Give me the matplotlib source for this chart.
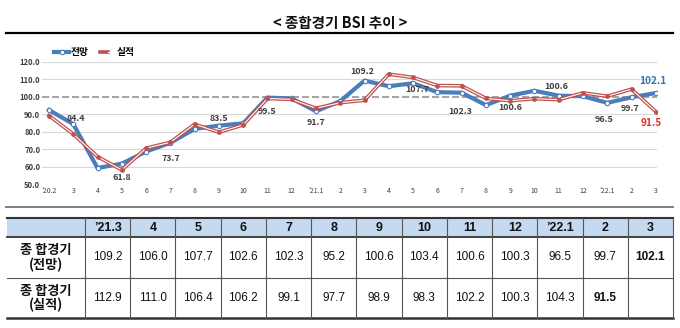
import matplotlib.pyplot as plt
from matplotlib.patches import Rectangle
from matplotlib.legend_handler import HandlerTuple

plt.rcParams['font.family'] = ['Noto Sans CJK KR', 'DejaVu Sans']

# chart data ('20.2 ~ '22.3)
months = ["’20.2", "3", "4", "5", "6", "7", "8", "9", "10", "11", "12",
          "’21.1", "2", "3", "4", "5", "6", "7", "8", "9", "10", "11", "12",
          "’22.1", "2", "3"]
outlook = [92.4, 84.4, 59.3, 61.8, 68.7, 73.7, 81.6, 83.5, 84.8, 99.5, 99.0,
           91.7, 97.5, 109.2, 106.0, 107.7, 102.6, 102.3, 95.2, 100.6, 103.4,
           100.6, 100.3, 96.5, 99.7, 102.1]
actual = [89.2, 78.7, 65.8, 58.2, 70.6, 74.0, 84.3, 79.7, 83.9, 99.0, 98.5,
          93.4, 96.6, 98.0, 112.9, 111.0, 106.4, 106.2, 99.1, 97.7, 98.9,
          98.3, 102.2, 100.3, 104.3, 91.5]

# table data
table_months = ["’21.3", "4", "5", "6", "7", "8", "9", "10", "11", "12",
                "’22.1", "2", "3"]
table_outlook = [109.2, 106.0, 107.7, 102.6, 102.3, 95.2, 100.6, 103.4, 100.6,
                 100.3, 96.5, 99.7, 102.1]
table_actual = [112.9, 111.0, 106.4, 106.2, 99.1, 97.7, 98.9, 98.3, 102.2,
                100.3, 104.3, 91.5, None]
row_names = ["종 합경기\n(전망)", "종 합경기\n(실적)"]

BLUE = '#4a7ebb'
RED = '#c0504d'
TXT = '#404040'

fig = plt.figure(figsize=(6.8, 3.28), dpi=100)

# background axes in pixel coordinates for title / rules / table
bg = fig.add_axes([0, 0, 1, 1])
bg.set_xlim(0, 680)
bg.set_ylim(328, 0)
bg.axis('off')

bg.text(340, 23, "< 종합경기 BSI 추이 >", ha='center', va='center',
        fontsize=10.5, fontweight='bold', color='#111111')
bg.plot([6, 673], [33, 33], color='black', lw=1.6)
bg.plot([6, 673], [207, 207], color='#7f7f7f', lw=1.4)

# ---- line chart ----
ax = fig.add_axes([41.7 / 680, 1 - 184.3 / 328, 615.3 / 680, 122.6 / 328])
x = list(range(len(months)))
for g in [50, 60, 70, 80, 90, 110, 120]:
    ax.axhline(g, color='#d9d9d9', lw=0.8, zorder=0)
ax.axhline(100, color='#a6a6a6', lw=1.5, dashes=(3.4, 1.4), zorder=1)

blue_line, = ax.plot(x, outlook, color=BLUE, lw=3, marker='o', ms=3.2,
                     mfc='white', mec=BLUE, mew=0.8, zorder=3)
red_outer, = ax.plot(x, actual, color=RED, lw=2.6, zorder=4)
red_inner, = ax.plot(x, actual, color='white', lw=0.8, zorder=5)
ax.plot(x, actual, ls='none', marker='o', ms=2.4, color=RED, zorder=6)

ax.set_xlim(-0.3, 25.05)
ax.set_ylim(50, 120)
ax.set_yticks(range(50, 121, 10))
ax.set_yticklabels([f"{v:.1f}" for v in range(50, 121, 10)])
ax.set_xticks(x)
ax.set_xticklabels(months)
ax.tick_params(axis='x', length=0, pad=2, labelsize=5, labelcolor=TXT)
ax.tick_params(axis='y', length=0, pad=1, labelsize=5.5, labelcolor=TXT)
for lab in ax.get_yticklabels():
    lab.set_fontweight('bold')
for s in ax.spines.values():
    s.set_visible(False)

# data labels on the outlook line: (index, dx, dy, va)
label_spots = [(1, 2, 1, 'bottom'), (3, 0, -7, 'top'), (5, 0, -8, 'top'),
               (7, 0, 2, 'bottom'), (9, 0, -6.5, 'top'), (11, 0, -5, 'top'),
               (13, -2, 3.5, 'bottom'), (15, 3, -1.5, 'top'),
               (17, -1, -10, 'top'), (19, 0, -5, 'top'),
               (21, -2, 3.5, 'bottom'), (23, -2, -9, 'top'),
               (24, -1, -4.5, 'top')]
for i, dx, dy, va in label_spots:
    ax.annotate(f"{outlook[i]:.1f}", (i, outlook[i]), xytext=(dx, dy),
                textcoords='offset points', ha='center', va=va,
                fontsize=6.4, fontweight='bold', color=TXT, zorder=7)
last = len(months) - 1
ax.annotate(f"{outlook[last]:.1f}", (last, outlook[last]), xytext=(-2, 5),
            textcoords='offset points', ha='center', va='bottom',
            fontsize=7.2, fontweight='bold', color='#2e75b6', zorder=7)
ax.annotate(f"{actual[last]:.1f}", (last, actual[last]), xytext=(-3, -4.5),
            textcoords='offset points', ha='center', va='top',
            fontsize=7.2, fontweight='bold', color='#e0302a', zorder=7)

fig.legend([blue_line, (red_outer, red_inner)], ["전망", "실적"],
           handler_map={tuple: HandlerTuple(ndivide=None, pad=0)},
           loc='center left', bbox_to_anchor=(50 / 680, 1 - 52 / 328),
           ncol=2, frameon=False, handlelength=1.6,
           handletextpad=0.1, columnspacing=1.2, borderaxespad=0,
           prop={'weight': 'bold', 'size': 7})

# ---- table ----
y_top, y_head, y_mid, y_bot = 218, 237, 278, 318
x_left, x_first = 7, 85
col_w = (673 - x_first) / len(table_months)
bg.add_patch(Rectangle((x_left, y_top), 673 - x_left, y_head - y_top,
                       facecolor='#c5d9f1', edgecolor='none'))
bg.plot([x_left, 673], [y_top, y_top], color='#333333', lw=1.5)
bg.plot([x_left, 673], [y_head, y_head], color='#333333', lw=1.3)
bg.plot([x_left, 673], [y_mid, y_mid], color='#555555', lw=0.8)
bg.plot([x_left, 673], [y_bot, y_bot], color='#333333', lw=1.8)
for j in range(len(table_months) + 1):
    xv = x_first + j * col_w
    bg.plot([xv, xv], [y_top, y_bot], color='#555555', lw=0.8)

for j, m in enumerate(table_months):
    cx = x_first + (j + 0.5) * col_w
    bg.text(cx, (y_top + y_head) / 2 + 0.5, m, ha='center', va='center',
            fontsize=9, fontweight='bold', family='Liberation Sans',
            color='#111111')
    for vals, (ya, yb) in [(table_outlook, (y_head, y_mid)),
                           (table_actual, (y_mid, y_bot))]:
        v = vals[j]
        if v is None:
            continue
        is_last = (j == len(vals) - 1) or vals[j + 1] is None
        bg.text(cx, (ya + yb) / 2, f"{v:.1f}", ha='center', va='center',
                fontsize=8.5, family='Liberation Sans',
                fontweight='bold' if is_last else 'normal', color='#111111')

for name, (ya, yb) in zip(row_names, [(y_head, y_mid), (y_mid, y_bot)]):
    bg.text((x_left + x_first) / 2, (ya + yb) / 2, name, ha='center',
            va='center', fontsize=9.5, fontweight='bold', linespacing=1.0,
            color='#111111')

fig.savefig('out.png', dpi=100, facecolor='white')
